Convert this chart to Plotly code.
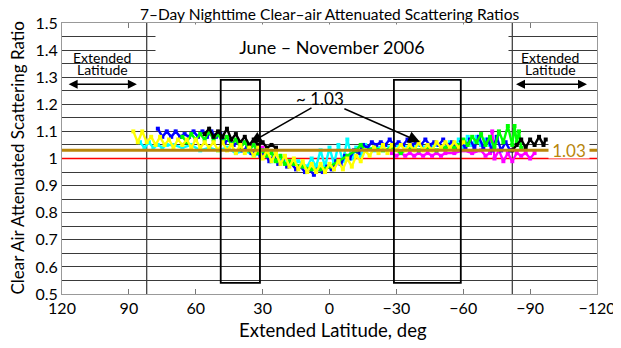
import plotly.graph_objects as go

# ---------------- axes / labels ----------------
LAT_RANGE = [120, -120]
VAL_RANGE = [0.5, 1.5]
X_TICKS = [120, 90, 60, 30, 0, -30, -60, -90, -120]
X_TICK_LABELS = ["120", "90", "60", "30", "0", "\u221230", "\u221260", "\u221290", "\u2212120"]
Y_TICKS = [0.5, 0.6, 0.7, 0.8, 0.9, 1.0, 1.1, 1.2, 1.3, 1.4, 1.5]
Y_TICK_LABELS = ["0.5", "0.6", "0.7", "0.8", "0.9", "1", "1.1", "1.2", "1.3", "1.4", "1.5"]

REFERENCE_RATIO = 1.0
MEAN_RATIO = 1.03
EXTENDED_BOUNDARY = [82, -82]
BOX_LATS = [[48.8, 31.2], [-28.9, -58.9]]
BOX_VALS = [0.541, 1.29]

# ---------------- data (weekly series) ----------------
yellow_lat = [88, 86, 84, 82, 80, 78, 76, 74, 72, 70, 68, 66, 64, 62, 60, 58, 56, 54, 52, 50,
              48, 46, 44, 42, 40, 38, 36, 34, 32, 30, 28, 26, 24, 22, 20, 18, 16, 14, 12, 10,
              8, 6, 4, 2, 0, -2, -4, -6, -8, -10, -12, -14, -16, -18, -20, -22, -24, -26, -28, -30,
              -32, -34, -36, -38, -40, -42, -44, -46, -48, -50, -52, -54, -56, -58, -60]
yellow_val = [1.10, 1.06, 1.10, 1.06, 1.08, 1.05, 1.08, 1.05, 1.07, 1.04,
              1.07, 1.05, 1.07, 1.04, 1.07, 1.04, 1.06, 1.04, 1.06, 1.03,
              1.06, 1.03, 1.05, 1.02, 1.05, 1.02, 1.04, 1.01, 1.04, 1.00,
              1.03, 0.99, 1.02, 0.98, 1.01, 0.97, 1.00, 0.96, 0.99, 0.95,
              0.98, 0.95, 0.98, 0.95, 0.98, 0.96, 0.99, 0.96, 1.00, 0.97,
              1.01, 0.99, 1.03, 1.01, 1.04, 1.02, 1.05, 1.02, 1.05, 1.03,
              1.05, 1.03, 1.05, 1.03, 1.06, 1.03, 1.05, 1.03, 1.06, 1.04,
              1.06, 1.04, 1.06, 1.04, 1.06]

blue_lat = [77, 75, 73, 71, 69, 67, 65, 63, 61, 59, 57, 55, 53, 51, 49, 47, 45, 43, 41, 39,
            37, 35, 33, 31, 29, 27, 25, 23, 21, 19, 17, 15, 13, 11, 9, 7, 5, 3, 1, -1,
            -3, -5, -7, -9, -11, -13, -15, -17, -19, -21, -23, -25, -27, -29, -31, -33, -35, -37, -39, -41,
            -43, -45, -47, -49, -51, -53, -55, -57, -59, -61, -63, -65, -67, -69, -71, -73, -75, -77, -79, -81]
blue_val = [1.11, 1.08, 1.10, 1.08, 1.10, 1.08, 1.09, 1.08, 1.10, 1.08,
            1.10, 1.08, 1.10, 1.08, 1.09, 1.06, 1.07, 1.05, 1.06, 1.03,
            1.04, 1.02, 1.03, 1.01, 1.02, 0.99, 1.01, 0.98, 0.99, 0.97,
            0.98, 0.96, 0.97, 0.95, 0.96, 0.94, 0.96, 0.95, 0.97, 0.96,
            0.99, 0.98, 1.01, 1.00, 1.03, 1.02, 1.05, 1.04, 1.06, 1.05,
            1.06, 1.05, 1.07, 1.05, 1.06, 1.05, 1.07, 1.05, 1.06, 1.05,
            1.07, 1.05, 1.06, 1.05, 1.07, 1.05, 1.06, 1.04, 1.06, 1.04,
            1.07, 1.04, 1.08, 1.04, 1.07, 1.03, 1.08, 1.03, 1.06, 1.03]

cyan_lat = [85, 83, 81, 79, 77, 75, 73,
            70, 66, 62, 58, 54, 50, 46, 42, 38, 34, 30, 26, 22, 18, 14, 10,
            8, 6, 4, 2, 0, -2, -4, -6, -8, -10, -12, -14, -16,
            -20, -24, -28, -32, -36, -40, -44, -48, -52,
            -54, -56, -58, -60, -62, -64, -66, -68, -70, -72]
cyan_val = [1.06, 1.04, 1.06, 1.04, 1.05, 1.04, 1.05,
            1.05, 1.04, 1.05, 1.03, 1.04, 1.03, 1.04, 1.02, 1.03, 1.01, 1.02, 0.99, 1.00, 0.98, 0.99, 0.97,
            1.00, 0.97, 1.03, 0.97, 1.04, 0.98, 1.05, 0.99, 1.07, 1.00, 1.04, 1.01, 1.05,
            1.03, 1.05, 1.04, 1.05, 1.04, 1.05, 1.04, 1.05, 1.04,
            1.06, 1.04, 1.07, 1.04, 1.08, 1.05, 1.08, 1.05, 1.07, 1.05]

green_lat = [66, 64, 62, 60, 58, 56, 54, 52, 50, 48, 46, 44, 42, 40, 38, 36, 34, 32, 30, 28,
             26, 24, 22, 20, 18,
             16, 12, 8, 4, 0, -4, -8, -12, -14, -16,
             -20, -24, -28, -32, -36, -40, -44, -48, -52, -56,
             -58, -60, -62, -64, -66, -68, -70, -72, -74, -76,
             -78, -80, -82, -83, -84, -85, -86]
green_val = [1.08, 1.06, 1.09, 1.07, 1.09, 1.07, 1.10, 1.07, 1.09, 1.06,
             1.08, 1.05, 1.07, 1.04, 1.06, 1.03, 1.05, 1.02, 1.03, 1.01,
             1.02, 0.99, 1.01, 0.98, 0.99,
             0.98, 0.97, 0.96, 0.96, 0.97, 0.99, 1.01, 1.03, 1.05, 1.03,
             1.04, 1.03, 1.04, 1.02, 1.04, 1.03, 1.04, 1.03, 1.04, 1.04,
             1.05, 1.07, 1.05, 1.08, 1.06, 1.09, 1.05, 1.08, 1.04, 1.10,
             1.06, 1.12, 1.05, 1.12, 1.06, 1.10, 1.04]

black_lat = [56, 54, 52, 50, 48, 46, 44, 42, 40, 38, 36, 34, 32, 30, 28, 26, 24,
             None, -82, -84, -86, -88, -90, -92, -94, -96, -97]
black_val = [1.09, 1.11, 1.08, 1.10, 1.08, 1.11, 1.07, 1.09, 1.06, 1.08, 1.05, 1.07, 1.05, 1.06, 1.04, 1.05, 1.04,
             None, 1.03, 1.05, 1.07, 1.04, 1.07, 1.05, 1.08, 1.05, 1.07]

magenta_lat = [40, 38, 36, 34, 32, 30, None,
               -28, -30, -32, -34, -36, -38, -40, -42, -44, -46, -48, -50, -52,
               -56, -60, -64, -68,
               -70, -72, -73, -74, -76, -78, -80, -82, -84, -86, -88, -90, -92]
magenta_val = [1.04, 1.06, 1.04, 1.05, 1.03, 1.04, None,
               1.02, 1.01, 1.02, 1.01, 1.02, 1.01, 1.02, 1.01, 1.02, 1.01, 1.02, 1.01, 1.02,
               1.02, 1.03, 1.02, 1.03,
               1.01, 1.02, 1.10, 1.00, 1.03, 0.99, 1.02, 0.99, 1.02, 1.01, 1.02, 1.00, 1.02]

SERIES = [
    ("magenta", magenta_lat, magenta_val, "#ff00ff"),
    ("cyan", cyan_lat, cyan_val, "#00ffff"),
    ("blue", blue_lat, blue_val, "#0000ff"),
    ("green", green_lat, green_val, "#00ff00"),
    ("black", black_lat, black_val, "#000000"),
    ("yellow", yellow_lat, yellow_val, "#ffff00"),
]

FONT = "Lato"
GOLD = "#b8860b"
GRID = "#3a3a3a"

fig = go.Figure()

# red reference line (under data)
fig.add_trace(go.Scatter(x=LAT_RANGE, y=[REFERENCE_RATIO, REFERENCE_RATIO], mode="lines",
                         line=dict(color="#ff0000", width=1.6), hoverinfo="skip"))

for name, lat, val, col in SERIES:
    fig.add_trace(go.Scatter(x=lat, y=val, mode="lines+markers", name=name,
                             line=dict(color=col, width=2.4),
                             marker=dict(color=col, size=4, symbol="square"),
                             connectgaps=False))

# gold mean line (over data)
fig.add_trace(go.Scatter(x=LAT_RANGE, y=[MEAN_RATIO, MEAN_RATIO], mode="lines",
                         line=dict(color=GOLD, width=3), hoverinfo="skip"))

shapes = []
for b in EXTENDED_BOUNDARY:
    shapes.append(dict(type="line", xref="x", yref="y", x0=b, x1=b, y0=VAL_RANGE[0], y1=VAL_RANGE[1],
                       line=dict(color="#333333", width=1.2), layer="below"))
for x0, x1 in BOX_LATS:
    shapes.append(dict(type="rect", xref="x", yref="y", x0=x0, x1=x1, y0=BOX_VALS[0], y1=BOX_VALS[1],
                       line=dict(color="#000000", width=1.8), layer="above"))

annotations = [
    # title
    dict(text="7\u2013Day Nighttime Clear\u2013air Attenuated Scattering Ratios", xref="paper", yref="paper",
         x=0.5, y=1.0, yshift=9, yanchor="middle", showarrow=False,
         font=dict(size=15.5, color="black", family=FONT)),
    # axis titles
    dict(text="Extended Latitude, deg", xref="paper", yref="paper", x=0.5, xshift=3,
         y=0.0, yshift=-36, yanchor="middle", showarrow=False,
         font=dict(size=18.5, color="black", family=FONT)),
    dict(text="Clear Air Attenuated Scattering Ratio", xref="paper", yref="paper", x=0.0, xshift=-45,
         y=0.5, yanchor="middle", xanchor="center", textangle=-90, showarrow=False,
         font=dict(size=17, color="black", family=FONT)),
    # subtitle with white box hiding the grid
    dict(text="June \u2013 November 2006", xref="x", yref="y", x=-1.0, y=1.5, yanchor="top", yshift=-1,
         width=352, height=33, bgcolor="white", borderpad=0, valign="bottom", showarrow=False,
         font=dict(size=18, color="black", family=FONT)),
    # Extended latitude labels
    dict(text="Extended", x=102, y=1.374, xref="x", yref="y", showarrow=False,
         font=dict(size=14, color="black", family=FONT)),
    dict(text="Latitude", x=102, y=1.327, xref="x", yref="y", showarrow=False,
         font=dict(size=14, color="black", family=FONT)),
    dict(text="Extended", x=-99, y=1.374, xref="x", yref="y", showarrow=False,
         font=dict(size=14, color="black", family=FONT)),
    dict(text="Latitude", x=-99, y=1.327, xref="x", yref="y", showarrow=False,
         font=dict(size=14, color="black", family=FONT)),
    dict(text="", x=86.4, y=1.274, ax=117.7, ay=1.274, xref="x", yref="y", axref="x", ayref="y",
         showarrow=True, arrowhead=2, arrowside="end+start", arrowsize=1.2, arrowwidth=1.5, arrowcolor="black"),
    dict(text="", x=-115.5, y=1.274, ax=-83, ay=1.274, xref="x", yref="y", axref="x", ayref="y",
         showarrow=True, arrowhead=2, arrowside="end+start", arrowsize=1.2, arrowwidth=1.5, arrowcolor="black"),
    # ~1.03 annotation
    dict(text="~ 1.03", x=4.3, y=1.223, xref="x", yref="y", showarrow=False,
         font=dict(size=17, color="black", family=FONT)),
    dict(text="", x=35.7, y=1.057, ax=7.4, ay=1.19, xref="x", yref="y", axref="x", ayref="y",
         showarrow=True, arrowhead=2, arrowsize=1.6, arrowwidth=1.5, arrowcolor="black"),
    dict(text="", x=-40.6, y=1.061, ax=-6, ay=1.186, xref="x", yref="y", axref="x", ayref="y",
         showarrow=True, arrowhead=2, arrowsize=1.6, arrowwidth=1.5, arrowcolor="black"),
    # gold value label
    dict(text="1.03", x=-107.5, y=MEAN_RATIO, xref="x", yref="y", showarrow=False,
         width=40, height=15, bgcolor="white", borderpad=0,
         font=dict(size=17, color=GOLD, family=FONT)),
]

# the page body adds an 8px margin, so the figure is 8px smaller than the window
fig.update_layout(
    width=613, height=340,
    margin=dict(l=54, r=24, t=15, b=54, autoexpand=False),
    paper_bgcolor="white", plot_bgcolor="white",
    showlegend=False,
    font=dict(family=FONT, color="black"),
    shapes=shapes,
    annotations=annotations,
    xaxis=dict(range=LAT_RANGE, tickvals=X_TICKS, ticktext=X_TICK_LABELS, automargin=False,
               ticks="inside", ticklen=5, tickcolor="#777777", mirror="ticks",
               showline=True, linecolor="#999999", linewidth=1,
               showgrid=False, zeroline=False, tickfont=dict(size=16)),
    yaxis=dict(range=VAL_RANGE, tickvals=Y_TICKS, ticktext=Y_TICK_LABELS, ticks="", automargin=False,
               showgrid=True, gridcolor=GRID, gridwidth=1,
               minor=dict(dtick=0.05, tick0=0, showgrid=True, gridcolor=GRID, gridwidth=1),
               showline=True, mirror=True, linecolor="#999999", linewidth=1,
               zeroline=False, tickfont=dict(size=16)),
)

fig.write_html("out.html")
